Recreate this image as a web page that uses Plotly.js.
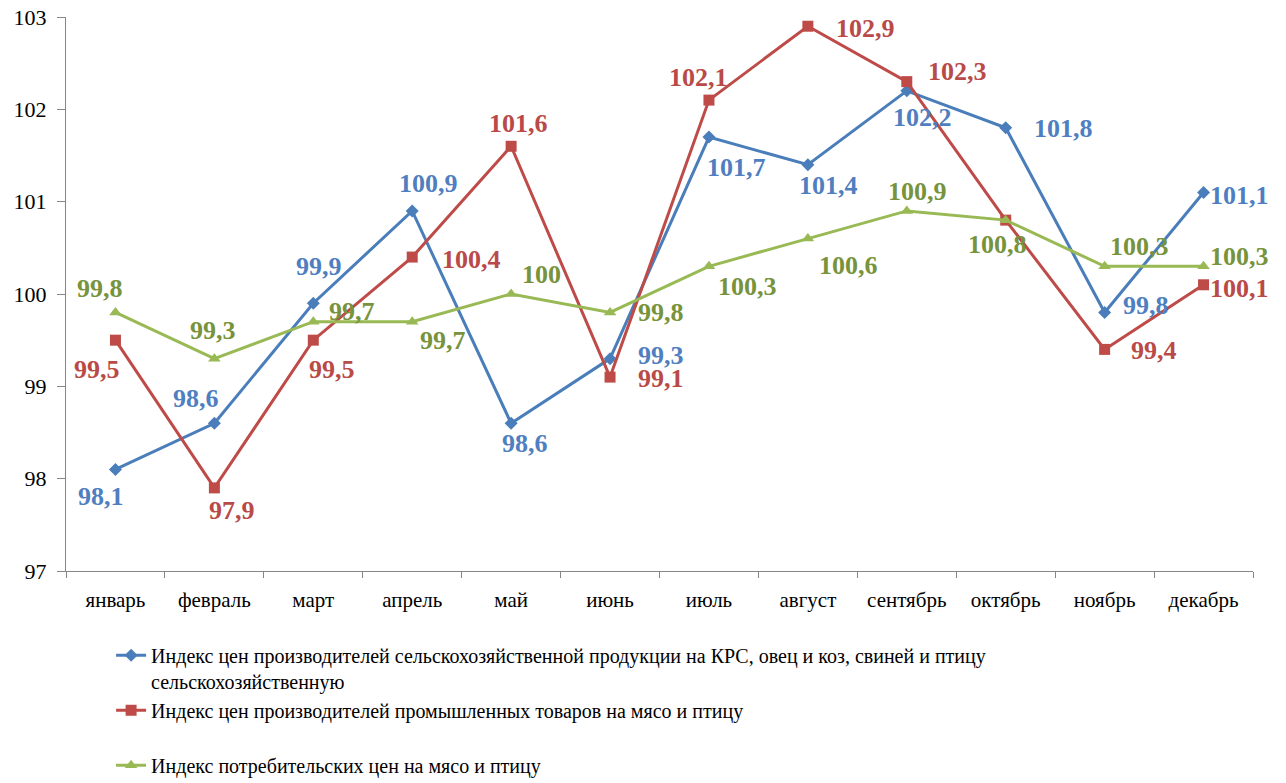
<!DOCTYPE html>
<html>
<head>
<meta charset="utf-8">
<script src="https://cdn.plot.ly/plotly-3.0.1.min.js"></script>
<style>html,body{margin:0;padding:0;background:#fff;}#chart{width:1286px;height:783px;}</style>
</head>
<body>
<div id="chart"></div>
<script>
const months = ["январь","февраль","март","апрель","май","июнь","июль","август","сентябрь","октябрь","ноябрь","декабрь"];
const agriValues = [98.1, 98.6, 99.9, 100.9, 98.6, 99.3, 101.7, 101.4, 102.2, 101.8, 99.8, 101.1];
const industryValues = [99.5, 97.9, 99.5, 100.4, 101.6, 99.1, 102.1, 102.9, 102.3, 100.8, 99.4, 100.1];
const consumerValues = [99.8, 99.3, 99.7, 99.7, 100, 99.8, 100.3, 100.6, 100.9, 100.8, 100.3, 100.3];
const seriesNames = [
  "Индекс цен производителей сельскохозяйственной продукции на КРС, овец и коз, свиней и птицу<br>сельскохозяйственную",
  "Индекс цен производителей промышленных товаров на мясо и птицу<br> ",
  "Индекс потребительских цен на мясо и птицу"
];

// label offsets in screen pixels [dx, dy(down)]
const agriOffsets = [[-14,27],[-18,-25],[6,-37],[16,-27],[14,20],[51,-3],[28,30],[21,21],[16,27],[58,1],[41,-7],[36,3]];
const industryOffsets = [[-18,29],[18,23],[19,29],[59,2],[7,-23],[51,1],[-10,-23],[58,2],[51,-10],null,[49,1],[36,4]];
const consumerOffsets = [[-15,-24],[-1,-28],[39,-10],[31,19],[30,-20],[51,0],[39,20],[41,27],[11,-19],[-8,24],[35,-20],[36,-10]];

const FONT = 'Liberation Serif';
const cfg = [
  {vals: agriValues, name: seriesNames[0], color: '#4A7EBB', text: '#4F7FC0', symbol: 'diamond', size: 10, offs: agriOffsets},
  {vals: industryValues, name: seriesNames[1], color: '#BE4B48', text: '#B94A48', symbol: 'square', size: 11, offs: industryOffsets},
  {vals: consumerValues, name: seriesNames[2], color: '#98B954', text: '#77933C', symbol: 'triangle-up', size: 11, offs: consumerOffsets}
];

const traces = cfg.map(c => ({
  type: 'scatter', mode: 'lines+markers', x: months, y: c.vals, name: c.name,
  line: {color: c.color, width: 3},
  marker: {color: c.color, symbol: c.symbol, size: c.size}
}));

const fmt = v => String(v).replace('.', ',');
const annotations = [];
cfg.forEach(c => {
  c.vals.forEach((v, i) => {
    const o = c.offs[i];
    if (!o) return;
    annotations.push({
      x: months[i], y: v, xref: 'x', yref: 'y', text: fmt(v), showarrow: false,
      xshift: o[0], yshift: -o[1],
      font: {family: FONT, size: 26, color: c.text, weight: 'bold'}
    });
  });
});

const layout = {
  width: 1286, height: 783,
  margin: {l: 66, r: 33, t: 17, b: 212},
  paper_bgcolor: '#fff', plot_bgcolor: '#fff',
  font: {family: FONT, color: '#000'},
  showlegend: true,
  legend: {
    x: 0.038, y: 0.188, xref: 'paper', yref: 'container', xanchor: 'left', yanchor: 'top',
    font: {family: FONT, size: 20, color: '#000'},
    valign: 'top', tracegroupgap: 0, bgcolor: 'rgba(0,0,0,0)'
  },
  xaxis: {
    type: 'category', showgrid: false, zeroline: false,
    showline: true, linecolor: '#868686', linewidth: 1,
    ticks: 'outside', tickson: 'boundaries', ticklen: 6, tickcolor: '#868686',
    tickfont: {family: FONT, size: 21, color: '#000'},
    ticklabelstandoff: 10,
    range: [-0.5, 11.5]
  },
  yaxis: {
    range: [97, 103], dtick: 1, showgrid: false, zeroline: false,
    showline: true, linecolor: '#868686', linewidth: 1,
    ticks: 'outside', ticklen: 8, tickcolor: '#868686',
    tickfont: {family: FONT, size: 22, color: '#000'},
    ticklabelstandoff: 6
  },
  annotations: annotations
};

Plotly.newPlot('chart', traces, layout, {displayModeBar: false, staticPlot: true});
</script>
</body>
</html>
